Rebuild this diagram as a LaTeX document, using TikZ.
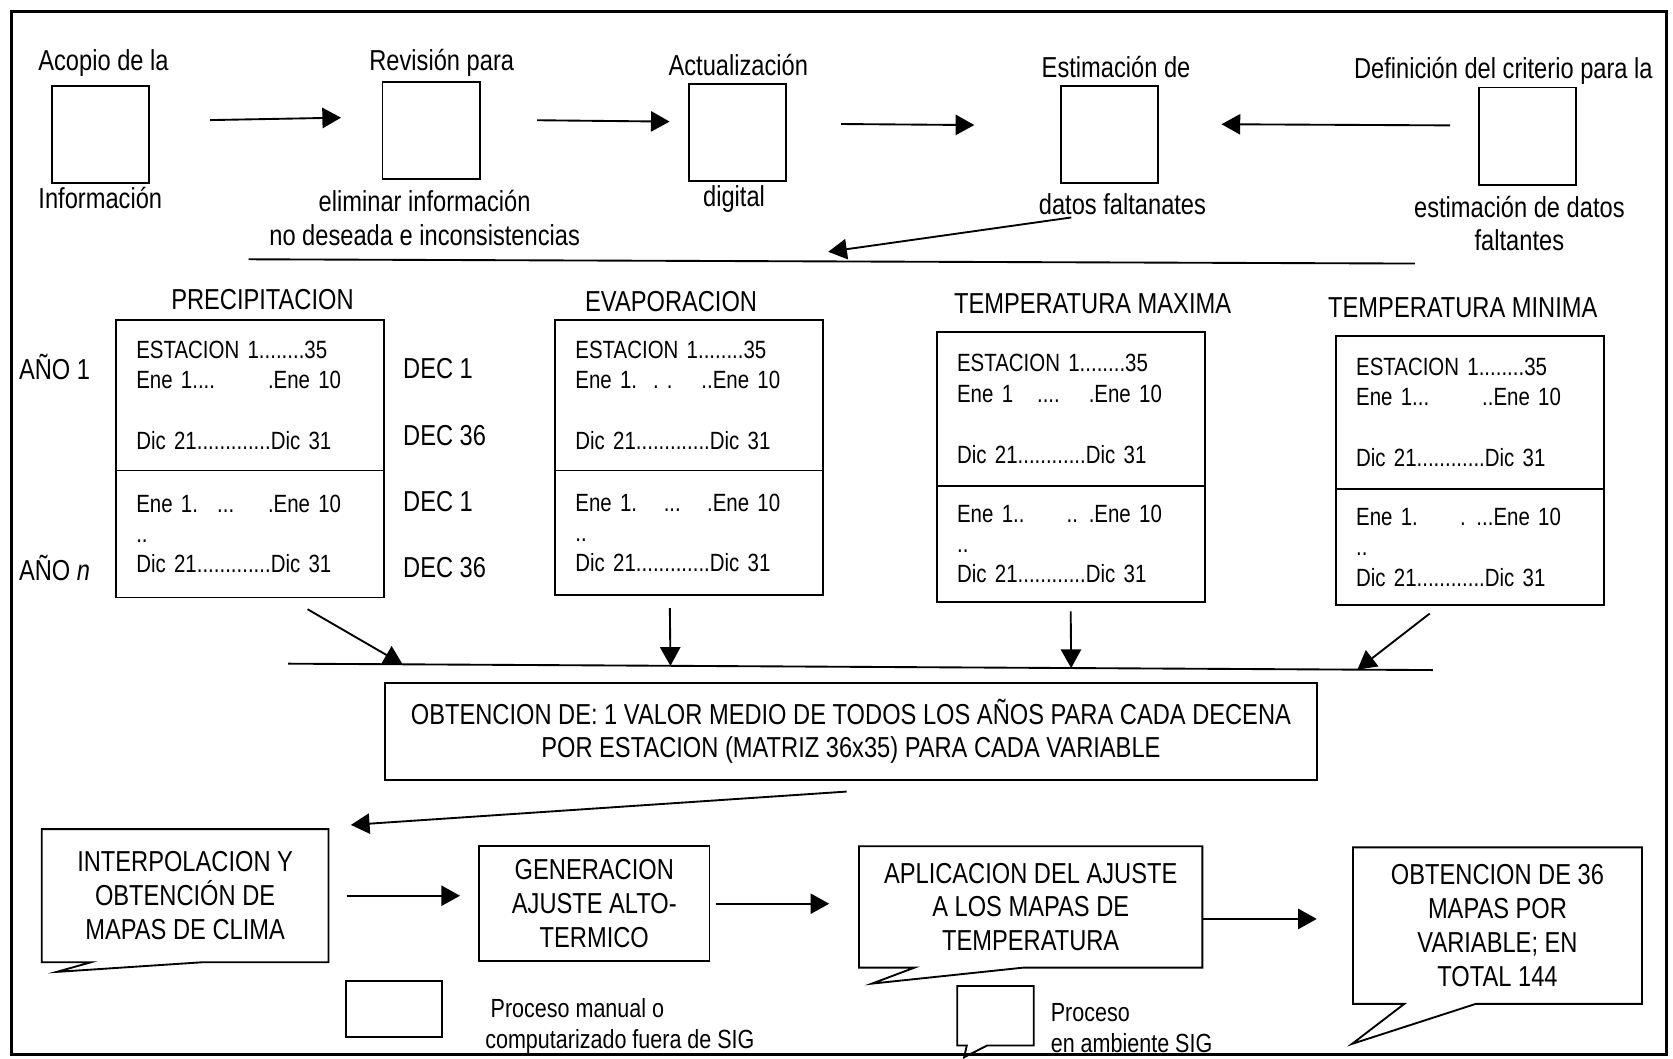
\documentclass[tikz,border=0pt]{standalone}
\usepackage{fontspec}
\setmainfont{Liberation Sans}[FakeStretch=0.82]
\usetikzlibrary{
	arrows.meta,
	calc,
	positioning,
}
\def\px{0.02cm}
\newcommand{\ene}[2]{\makebox[3.84cm][l]{#1\hfill#2}}
\newcommand{\bubble}[4]{%
	\draw[frame] (#1.south west) -- (#1.north west) -- (#1.north east) -- (#1.south east)
		-- ([shift={(#4,0)}]#1.south west) -- ([shift={#3}]#1.south west)
		-- ([shift={(#2,0)}]#1.south west) -- cycle;
}
\tikzset{lbl/.style={inner sep=0pt,align=center,font=\fontsize{15.4}{18}\selectfont,}}
\tikzset{frame/.style={draw,line width=1pt,}}
\tikzset{empty box/.style={frame,minimum width=91*\px,minimum height=91*\px,}}
\tikzset{cell/.style={frame,outer sep=0pt,text width=213*\px,inner xsep=19*\px,inner ysep=0pt,align=left,font=\fontsize{13.3}{16.2}\selectfont,}}
\tikzset{bubble text/.style={lbl,inner sep=0pt,}}
\tikzset{legend text/.style={inner sep=0pt,align=left,font=\fontsize{14}{16.6}\selectfont,}}

\begin{document}
\begin{tikzpicture}[x=\px, y=-\px, line width=1pt, >={Triangle[length=3.5mm,width=3.8mm]}]

\useasboundingbox (0,0) rectangle (1568,992);
\draw[line width=1.5pt] (11,11) rectangle (1562,988);

% first row
\node[empty box] (acq) at (94.5,126) {};
\node[empty box] (rev) at (404,122) {};
\node[empty box] (act) at (691,124) {};
\node[empty box] (est) at (1039.5,126) {};
\node[empty box] (def) at (1431.5,127.5) {};

\node[lbl] (acq-t) at (97,59) {Acopio de la};
\node[lbl] (acq-b) at (94,186) {Información};
\node[lbl] (rev-t) at (414,59) {Revisión para};
\node[lbl] (rev-b) at (398,204) {eliminar información\\no deseada e inconsistencias};
\node[lbl] (act-t) at (692,61) {Actualización};
\node[lbl] (act-b) at (688,187) {digital};
\node[lbl] (est-t) at (1046,63) {Estimación de};
\node[lbl] (est-b) at (1052,191) {datos faltanates};
\node[lbl] (def-t) at (1409,66) {Definición del criterio para la};
\node[lbl] (def-b) at (1424,209.5) {estimación de datos\\faltantes};

\draw[->,shorten <=56*\px,shorten >=38*\px] (acq.15) -- (rev.165);
\draw[->,shorten <=53*\px,shorten >=17*\px] (rev.12) -- (act.168);
\draw[->,shorten <=51*\px,shorten >=80*\px] (act.10) -- (est.170);
\draw[->,shorten <=26*\px,shorten >=59*\px] (def.168) -- (est.12);

\coordinate (busa-w) at (233,243);
\coordinate (busa-e) at (1326,247);
\draw (busa-w) -- (busa-e);
\draw[->] ([shift={(-48,2)}]est-b.south) -- ($(busa-w)!0.497!(busa-e)+(0,-9)$);

% variables
\node[lbl] (pre-h) at (246,281) {PRECIPITACION};
\node[lbl] (eva-h) at (629,283) {EVAPORACION};
\node[lbl] (tmx-h) at (1024,285) {TEMPERATURA MAXIMA};
\node[lbl] (tmn-h) at (1371,288) {TEMPERATURA MINIMA};

\node[cell,minimum height=141*\px] (pre-a) at (234.25,370.5)
	{ESTACION 1........35\\\ene{Ene 1....}{.Ene 10}\\[16.5pt]Dic 21.............Dic 31};
\node[cell,minimum height=119*\px,below=0pt of pre-a] (pre-b)
	{\ene{Ene 1.\hspace{0.36cm}...}{.Ene 10}\\..\\Dic 21.............Dic 31};

\node[cell,minimum height=141*\px] (eva-a) at (645.8,370.5)
	{ESTACION 1........35\\\ene{Ene 1.\hspace{0.3cm}.\hspace{0.15cm}.}{..Ene 10}\\[16.5pt]Dic 21.............Dic 31};
\node[cell,minimum height=117*\px,below=0pt of eva-a] (eva-b)
	{\ene{Ene 1.\hspace{0.5cm}...}{.Ene 10}\\..\\Dic 21.............Dic 31};

\node[cell,minimum height=144.6*\px] (tmx-a) at (1003.5,383.3)
	{ESTACION 1........35\\\ene{Ene 1\hspace{0.45cm}....}{.Ene 10}\\[16.5pt]Dic 21............Dic 31};
\node[cell,minimum height=108.4*\px,below=0pt of tmx-a] (tmx-b)
	{\ene{Ene 1..}{..\hspace{0.2cm}.Ene 10}\\..\\Dic 21............Dic 31};

\node[cell,minimum height=143.8*\px] (tmn-a) at (1377.5,386.5)
	{ESTACION 1........35\\\ene{Ene 1...}{..Ene 10}\\[16.5pt]Dic 21............Dic 31};
\node[cell,minimum height=108.6*\px,below=0pt of tmn-a] (tmn-b)
	{\ene{Ene 1.}{.\hspace{0.2cm}...Ene 10}\\..\\Dic 21............Dic 31};

\node[lbl,anchor=west] (ano-1) at (17,344) {AÑO 1};
\node[lbl,anchor=west] (ano-n) at (17,532) {AÑO \textit{n}};
\foreach \y/\d [count=\i] in {345/1,408/36,470/1,532/36}
	\node[lbl,anchor=west] (dec-\i) at (377,\y) {DEC \d};

\coordinate (busb-w) at (270,622);
\coordinate (busb-e) at (1343,628);
\draw (busb-w) -- (busb-e);
\draw[->] ([shift={(54,11)}]pre-b.south) -- ($(busb-w)!0.1!(busb-e)$);
\draw[->] ([shift={(-18,12)}]eva-b.south) -- ($(busb-w)!0.334!(busb-e)$);
\draw[->] ([shift={(0,9)}]tmx-b.south) -- ($(busb-w)!0.684!(busb-e)$);
\draw[->] ([shift={(-37.5,8)}]tmn-b.south) -- ($(busb-w)!0.934!(busb-e)$);

\node[lbl,frame,minimum width=874*\px,minimum height=91*\px] (mean) at (797.5,685.5)
	{OBTENCION DE: 1 VALOR MEDIO DE TODOS LOS AÑOS PARA CADA DECENA\\POR ESTACION (MATRIZ 36x35) PARA CADA VARIABLE};

% last row
\node[bubble text,minimum width=267*\px,minimum height=123*\px] (interp) at (173.5,839.5)
	{INTERPOLACION Y\\OBTENCIÓN DE\\MAPAS DE CLIMA};
\bubble{interp}{46}{(14,9)}{150}
\node[lbl,frame,minimum width=216*\px,minimum height=108*\px] (gen) at (557,847)
	{GENERACION\\AJUSTE ALTO-\\TERMICO};
\node[bubble text,minimum width=320*\px,minimum height=112*\px] (aplic) at (966,850)
	{APLICACION DEL AJUSTE\\A LOS MAPAS DE\\TEMPERATURA};
\bubble{aplic}{52}{(12,15)}{154}
\node[bubble text,minimum width=269*\px,minimum height=145*\px] (maps) at (1403.5,867.5)
	{OBTENCION DE 36\\MAPAS POR\\VARIABLE; EN\\TOTAL 144};
\bubble{maps}{48}{(-1,37.5)}{115}

\draw[->] ([shift={(-4,10)}]mean.south) -- ([shift={(21,-4)}]interp.north east);
\draw[->,shorten <=17*\px,shorten >=17*\px] (interp.east) -- (interp.east -| gen.west);
\draw[->,shorten <=5*\px,shorten >=28*\px] (gen.east) -- (gen.east -| aplic.west);
\draw[->,shorten <=1*\px,shorten >=34*\px] (aplic.-4) -- (aplic.-4 -| maps.west);

% legend
\node[frame,minimum width=90*\px,minimum height=53*\px] (leg-man) at (369,945.5) {};
\node[legend text,anchor=west] (leg-man-t) at (454,961.5)
	{\hspace*{0.1cm}Proceso manual o\\computarizado fuera de SIG};
\node[inner sep=0pt,minimum width=70*\px,minimum height=54*\px] (leg-sig) at (933,952) {};
\bubble{leg-sig}{9}{(6.5,11)}{28}
\node[legend text,anchor=west] (leg-sig-t) at (984,963.5) {Proceso\\en ambiente SIG};

\end{tikzpicture}
\end{document}
